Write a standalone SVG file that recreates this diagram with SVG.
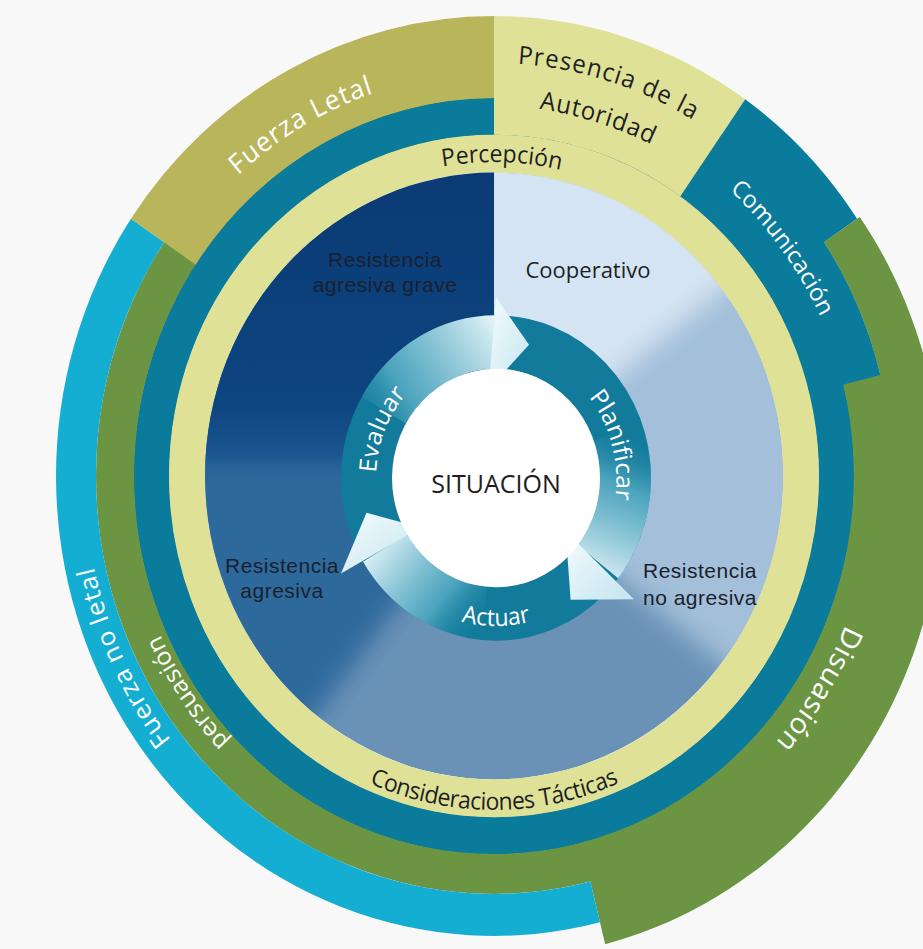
<svg xmlns="http://www.w3.org/2000/svg" width="923" height="949" viewBox="0 0 923 949">
<defs>
<style>
.lbl{font-family:"Open Sans","Liberation Sans",sans-serif;text-anchor:middle;}
.w{fill:#ffffff;}
.d{fill:#1d1f24;}
.q{font-family:"Liberation Sans",Arial,sans-serif;font-size:21px;fill:#1a1f2e;text-anchor:middle;letter-spacing:0.5px;}
.teal{fill:#0b7b9c;}
.green{fill:#6b9543;}
.cyan{fill:#14aed2;}
.olive{fill:#b9b55b;}
.yellow{fill:#dfe197;}
</style>
<clipPath id="diskClip"><circle r="289"/></clipPath>
<filter id="soft" x="-30%" y="-30%" width="160%" height="160%"><feGaussianBlur stdDeviation="12"/></filter>
<linearGradient id="navy" gradientUnits="userSpaceOnUse" x1="0" y1="-300" x2="0" y2="10">
<stop offset="0" stop-color="#0a3a73"/>
<stop offset="0.75" stop-color="#0d4580"/>
<stop offset="0.9" stop-color="#1a558f"/>
<stop offset="1" stop-color="#2e6899" stop-opacity="0"/>
</linearGradient>
<linearGradient id="g1" gradientUnits="userSpaceOnUse" x1="-140" y1="-40" x2="10" y2="-140">
<stop offset="0" stop-color="#127b9b" stop-opacity="0"/>
<stop offset="0.35" stop-color="#5aaec6" stop-opacity="0.8"/>
<stop offset="1" stop-color="#e8f6fa"/>
</linearGradient>
<linearGradient id="g2" gradientUnits="userSpaceOnUse" x1="150" y1="-40" x2="95" y2="100">
<stop offset="0" stop-color="#127b9b" stop-opacity="0"/>
<stop offset="0.35" stop-color="#5aaec6" stop-opacity="0.8"/>
<stop offset="1" stop-color="#e8f6fa"/>
</linearGradient>
<linearGradient id="g3" gradientUnits="userSpaceOnUse" x1="-20" y1="150" x2="-125" y2="60">
<stop offset="0" stop-color="#127b9b" stop-opacity="0"/>
<stop offset="0.35" stop-color="#5aaec6" stop-opacity="0.8"/>
<stop offset="1" stop-color="#e8f6fa"/>
</linearGradient>
<linearGradient id="hg" x1="0" y1="0" x2="1" y2="1">
<stop offset="0" stop-color="#f4fbfd"/>
<stop offset="1" stop-color="#c4e5f0"/>
</linearGradient>
<path id="pPerc" d="M-7.83,298.9 A299 299 0 1 1 7.83,-298.9 A299 299 0 1 1 -7.83,298.9"/>
<path id="pCons" d="M0,-318 A318 318 0 1 0 0,318 A318 318 0 1 0 0,-318"/>
<path id="pFL" d="M192,332.6 A384 384 0 1 1 -192,-332.6 A384 384 0 1 1 192,332.6"/>
<path id="pPres" d="M-115,376 A393 393 0 1 1 115,-376 A393 393 0 1 1 -115,376"/>
<path id="pAut" d="M-102.9,336.6 A352 352 0 1 1 102.9,-336.6 A352 352 0 1 1 -102.9,336.6"/>
<path id="pCom" d="M-286.7,216 A359 359 0 1 1 286.7,-216 A359 359 0 1 1 -286.7,216"/>
<path id="pDis" d="M-320.5,-200.3 A378 378 0 1 1 320.5,200.3 A378 378 0 1 1 -320.5,-200.3"/>
<path id="pFNL" d="M370.7,-172.8 A409 409 0 1 1 -370.7,172.8 A409 409 0 1 1 370.7,-172.8"/>
<path id="pPers" d="M303.4,-204.7 A366 366 0 1 1 -303.4,204.7 A366 366 0 1 1 303.4,-204.7"/>
<path id="pEval" d="M111.3,44.95 A120 120 0 1 1 -111.3,-44.95 A120 120 0 1 1 111.3,44.95"/>
<path id="pPlan" d="M-115.9,31.06 A120 120 0 1 1 115.9,-31.06 A120 120 0 1 1 -115.9,31.06"/>
<path id="pAct" d="M0,-141 A141 141 0 1 0 0,141 A141 141 0 1 0 0,-141"/>
</defs>
<rect width="923" height="949" fill="#f8f8f8"/>
<g id="rings" transform="translate(494,476) scale(1,1.05)">
  <circle r="342.5" fill="none" stroke="#0b7b9c" stroke-width="36"/>
  <circle r="379" fill="none" stroke="#6b9543" stroke-width="38"/>
  <g id="disuasion">
    <path class="green" d="M365.8,-246.7 A448 448 0 0 1 111.2,445.9 L87.1,349.3 A360 360 0 0 0 349.3,-87.1 L386.2,-96.3 A398 398 0 0 0 329.9,-222.6 Z"/>
    <text class="lbl w" font-size="28" letter-spacing="0.6"><textPath href="#pDis" startOffset="50%">Disuasión</textPath></text>
  </g>
  <g id="fuerza-no-letal">
    <path class="cyan" d="M106,425 A438 438 0 0 1 -363.1,-244.9 L-329.9,-222.6 A398 398 0 0 0 96.3,386.2 Z"/>
    <text class="lbl w" font-size="25" letter-spacing="0.9"><textPath href="#pFNL" startOffset="50%">Fuerza no letal</textPath></text>
  </g>
  <g id="persuasion">
    <text class="lbl w" font-size="24"><textPath href="#pPers" startOffset="50%">persuasión</textPath></text>
  </g>
  <g id="fuerza-letal">
    <path class="olive" d="M-363.1,-244.9 A438 438 0 0 1 0,-438 L0,-360 A360 360 0 0 0 -298.4,-201.3 Z"/>
    <text class="lbl w" font-size="26" letter-spacing="1"><textPath href="#pFL" startOffset="50%">Fuerza Letal</textPath></text>
  </g>
  <g id="presencia">
    <path class="yellow" d="M0,-438 A438 438 0 0 1 251.2,-358.8 L186.4,-266.2 A325 325 0 0 0 0,-325 Z"/>
    <text class="lbl d" font-size="24" letter-spacing="1.2"><textPath href="#pPres" startOffset="50%">Presencia de la</textPath></text>
    <text class="lbl d" font-size="24" letter-spacing="0.8"><textPath href="#pAut" startOffset="50%">Autoridad</textPath></text>
  </g>
  <g id="comunicacion">
    <path class="teal" d="M251.2,-358.8 A438 438 0 0 1 363.1,-244.9 L329.9,-222.6 A398 398 0 0 1 386.2,-96.3 L315.3,-78.6 A325 325 0 0 0 186.4,-266.2 Z"/>
    <text class="lbl w" font-size="23"><textPath href="#pCom" startOffset="50%">Comunicación</textPath></text>
  </g>
  <g id="percepcion">
    <circle r="307" fill="none" stroke="#dfe197" stroke-width="36"/>
    <text class="lbl d" font-size="23"><textPath href="#pPerc" startOffset="50%">Percepción</textPath></text>
    <text class="lbl d" font-size="23" letter-spacing="-0.5"><textPath href="#pCons" startOffset="50%">Consideraciones Tácticas</textPath></text>
  </g>
  <g id="disk" clip-path="url(#diskClip)">
    <circle r="289" fill="#6a92b7"/>
    <g filter="url(#soft)">
      <path d="M0,0 L267.9,-209.3 A340 340 0 0 1 267.9,209.3 Z" fill="#a3bfd9"/>
      <path d="M0,0 L-116.3,-319.5 A340 340 0 0 1 267.9,-209.3 Z" fill="#d4e4f2"/>
      <path d="M0,0 L-209.3,267.9 A340 340 0 0 1 -294.4,-170 Z" fill="#2f699c"/>
    </g>
    <rect x="-300" y="-300" width="300" height="310" fill="url(#navy)"/>
  </g>
</g>
<g id="q-grave"><text class="q" x="385" y="267">Resistencia</text><text class="q" x="385" y="292">agresiva grave</text></g>
<g id="q-coop"><text class="lbl d" font-size="22" x="588" y="278">Cooperativo</text></g>
<g id="q-agresiva"><text class="q" x="282" y="573">Resistencia</text><text class="q" x="282" y="598">agresiva</text></g>
<g id="q-noagresiva"><text class="q" x="700" y="578">Resistencia</text><text class="q" x="700" y="605">no agresiva</text></g>
<g id="cycle" transform="translate(496,478) scale(1,1.05)">
  <circle r="129.5" fill="none" stroke="#127b9b" stroke-width="51"/>
  <g id="connectors">
    <path d="M-134.2,-77.5 A155 155 0 0 1 0,-155 L0,-104 A104 104 0 0 0 -90.1,-52 Z" fill="url(#g1)"/>
    <path d="M145.7,-53 A155 155 0 0 1 122.1,95.4 L82,64 A104 104 0 0 0 97.7,-35.6 Z" fill="url(#g2)"/>
    <path d="M-13.5,154.4 A155 155 0 0 1 -132.9,79.8 L-89.1,53.6 A104 104 0 0 0 -9.1,103.6 Z" fill="url(#g3)"/>
    <path d="M0,-172 L33,-127 L-7.4,-84.7 Z" fill="url(#hg)"/>
    <path d="M138,115.5 L74.6,116 L69.6,50.5 Z" fill="url(#hg)"/>
    <path d="M-155,91 L-129.5,33 L-75.5,47.2 Z" fill="url(#hg)"/>
  </g>
  <g id="situacion"><circle r="104" fill="#ffffff"/></g>
  <g id="evaluar"><text class="lbl w" font-size="24"><textPath href="#pEval" startOffset="50%">Evaluar</textPath></text></g>
  <g id="planificar"><text class="lbl w" font-size="24"><textPath href="#pPlan" startOffset="50%">Planificar</textPath></text></g>
  <g id="actuar"><text class="lbl w" font-size="23"><textPath href="#pAct" startOffset="50%">Actuar</textPath></text></g>
</g>
<text class="lbl" font-size="25" x="496" y="493" fill="#1e1e1e">SITUACIÓN</text>
</svg>
